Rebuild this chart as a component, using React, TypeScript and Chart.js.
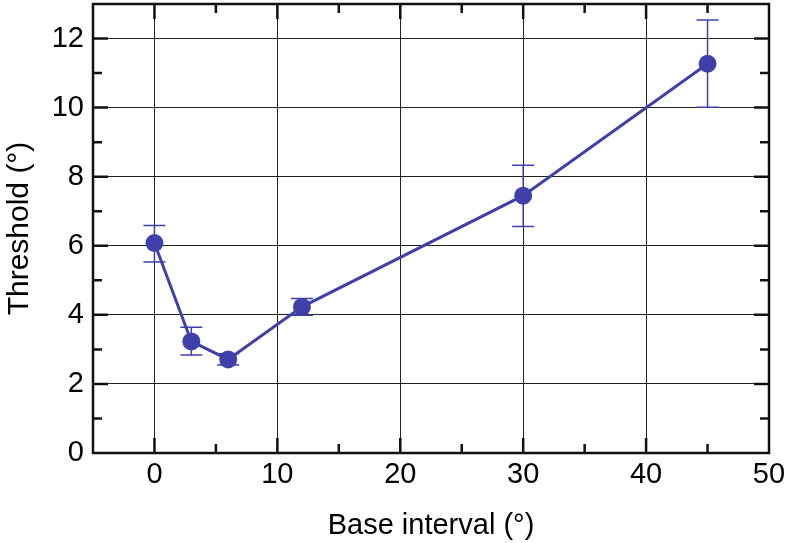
import React, { useEffect, useRef } from "react";
import { Chart, registerables } from "chart.js";

Chart.register(...registerables);

const X_VALUES = [0, 3, 6, 12, 30, 45];
const Y_VALUES = [6.08, 3.23, 2.71, 4.23, 7.45, 11.27];
const Y_LOW = [5.53, 2.84, 2.55, 3.99, 6.56, 10.01];
const Y_HIGH = [6.59, 3.64, 2.87, 4.47, 8.33, 12.54];

const X_TICKS = [0, 10, 20, 30, 40, 50];
const X_MINOR = [5, 15, 25, 35, 45];
const Y_TICKS = [0, 2, 4, 6, 8, 10, 12];
const Y_MINOR = [1, 3, 5, 7, 9, 11];

const COLOR = "#4040AA";
const FONT = "'Liberation Sans', Arial, Helvetica, sans-serif";

const framePlugin = {
  id: "frame",
  beforeDatasetsDraw(chart: any) {
    const ctx = chart.ctx;
    const xs = chart.scales.x;
    const ys = chart.scales.y;
    ctx.save();
    ctx.strokeStyle = COLOR;
    ctx.lineWidth = 1.5;
    for (let i = 0; i < X_VALUES.length; i++) {
      const px = xs.getPixelForValue(X_VALUES[i]);
      const lo = ys.getPixelForValue(Y_LOW[i]);
      const hi = ys.getPixelForValue(Y_HIGH[i]);
      ctx.beginPath();
      ctx.moveTo(px, lo);
      ctx.lineTo(px, hi);
      ctx.moveTo(px - 11, lo);
      ctx.lineTo(px + 11, lo);
      ctx.moveTo(px - 11, hi);
      ctx.lineTo(px + 11, hi);
      ctx.stroke();
    }
    ctx.restore();
  },
  afterDraw(chart: any) {
    const ctx = chart.ctx;
    const { left, right, top, bottom } = chart.chartArea;
    const xs = chart.scales.x;
    const ys = chart.scales.y;
    ctx.save();
    ctx.strokeStyle = "#111";
    ctx.lineWidth = 2.5;
    ctx.lineCap = "butt";
    ctx.beginPath();
    const major = 15;
    const minor = 9;
    X_TICKS.forEach((v) => {
      const px = xs.getPixelForValue(v);
      if (px > left + 2 && px < right - 2) {
        ctx.moveTo(px, bottom);
        ctx.lineTo(px, bottom - major);
        ctx.moveTo(px, top);
        ctx.lineTo(px, top + major);
      }
    });
    X_MINOR.forEach((v) => {
      const px = xs.getPixelForValue(v);
      ctx.moveTo(px, bottom);
      ctx.lineTo(px, bottom - minor);
      ctx.moveTo(px, top);
      ctx.lineTo(px, top + minor);
    });
    Y_TICKS.forEach((v) => {
      const py = ys.getPixelForValue(v);
      if (py > top + 2 && py < bottom - 2) {
        ctx.moveTo(left, py);
        ctx.lineTo(left + major, py);
        ctx.moveTo(right, py);
        ctx.lineTo(right - major, py);
      }
    });
    Y_MINOR.forEach((v) => {
      const py = ys.getPixelForValue(v);
      ctx.moveTo(left, py);
      ctx.lineTo(left + minor, py);
      ctx.moveTo(right, py);
      ctx.lineTo(right - minor, py);
    });
    ctx.stroke();
    ctx.lineWidth = 2.5;
    ctx.strokeRect(left, top, right - left, bottom - top);
    ctx.restore();
  },
};

export default function App() {
  const canvasRef = useRef<HTMLCanvasElement | null>(null);

  useEffect(() => {
    if (!canvasRef.current) return;
    const chart = new Chart(canvasRef.current, {
      type: "line",
      data: {
        datasets: [
          {
            data: X_VALUES.map((x, i) => ({ x, y: Y_VALUES[i] })),
            borderColor: COLOR,
            backgroundColor: COLOR,
            borderWidth: 3,
            pointRadius: 9,
            pointHoverRadius: 9,
            pointBackgroundColor: COLOR,
            pointBorderWidth: 0,
            tension: 0,
          },
        ],
      },
      options: {
        animation: false,
        responsive: false,
        maintainAspectRatio: false,
        layout: { autoPadding: false, padding: { top: 4, right: 20, left: 0, bottom: 0 } },
        plugins: {
          legend: { display: false },
          tooltip: { enabled: false },
        },
        scales: {
          x: {
            type: "linear",
            min: -5,
            max: 50,
            afterBuildTicks: (s: any) => {
              s.ticks = X_TICKS.map((value) => ({ value }));
            },
            afterFit: (s: any) => {
              s.height = 90;
              s.paddingLeft = 0;
              s.paddingRight = 0;
              s.paddingTop = 0;
              s.paddingBottom = 0;
            },
            grid: { color: "#222", lineWidth: 1, drawTicks: false },
            border: { display: false },
            ticks: {
              color: "#000",
              padding: 5,
              maxRotation: 0,
              font: { family: FONT, size: 29 },
            },
            title: {
              display: true,
              text: "Base interval (°)",
              color: "#000",
              font: { family: FONT, size: 29 },
              padding: { top: 0, bottom: 0 },
            },
          },
          y: {
            type: "linear",
            min: 0,
            max: 13,
            afterBuildTicks: (s: any) => {
              s.ticks = Y_TICKS.map((value) => ({ value }));
            },
            afterFit: (s: any) => {
              s.width = 93;
              s.paddingLeft = 0;
              s.paddingRight = 0;
              s.paddingTop = 0;
              s.paddingBottom = 0;
            },
            grid: { color: "#222", lineWidth: 1, drawTicks: false },
            border: { display: false },
            ticks: {
              color: "#000",
              padding: 9,
              font: { family: FONT, size: 29 },
            },
            title: {
              display: true,
              text: "Threshold (°)",
              color: "#000",
              font: { family: FONT, size: 30 },
              padding: { top: 2, bottom: 0 },
            },
          },
        },
      },
      plugins: [framePlugin],
    });
    return () => chart.destroy();
  }, []);

  return (
    <div style={{ position: "fixed", left: 0, top: 0, width: 789, height: 543, background: "#fff" }}>
      <canvas ref={canvasRef} width={789} height={543} style={{ width: 789, height: 543 }} />
    </div>
  );
}
